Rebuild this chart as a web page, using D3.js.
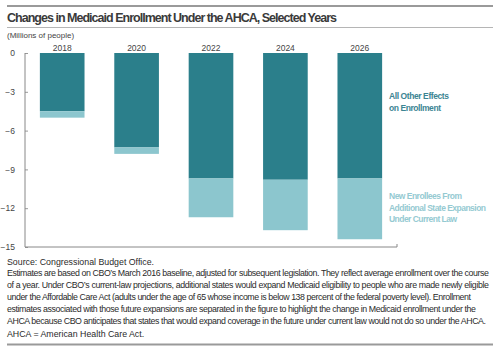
<!DOCTYPE html>
<html>
<head>
<meta charset="utf-8">
<script src="https://cdn.jsdelivr.net/npm/d3@7"></script>
<style>
  body { margin: 0; background: #fff; }
  svg { display: block; font-family: "Liberation Sans Narrow", "Liberation Sans", Arial, sans-serif; }
</style>
</head>
<body>
<script>
(function () {
    var width = 500;
    var height = 361;

    // data (millions of people)
    var years = ["2018", "2020", "2022", "2024", "2026"];
    var otherEffects = [-4.5, -7.3, -9.7, -9.8, -9.7];
    var newEnrollees = [-0.5, -0.5, -3.0, -3.9, -4.7];
    var yTicks = [0, -3, -6, -9, -12, -15];

    var darkTeal = "#2b7f8b";
    var lightTeal = "#8cc6ce";

    var notes = [
        "Estimates are based on CBO\u2019s March 2016 baseline, adjusted for subsequent legislation. They reflect average enrollment over the course",
        "of a year. Under CBO\u2019s current-law projections, additional states would expand Medicaid eligibility to people who are made newly eligible",
        "under the Affordable Care Act (adults under the age of 65 whose income is below 138 percent of the federal poverty level). Enrollment",
        "estimates associated with those future expansions are separated in the figure to highlight the change in Medicaid enrollment under the",
        "AHCA because CBO anticipates that states that would expand coverage in the future under current law would not do so under the AHCA."
    ];
    var noteWidths = [482, 482, 464, 469, 479];

    var darkLines = ["All Other Effects", "on Enrollment"];
    var darkWidths = [60, 52];
    var lightLines = ["New Enrollees From", "Additional State Expansion", "Under Current Law"];
    var lightWidths = [73, 97, 68];

    var svg = d3.select("body").append("svg")
        .attr("width", width)
        .attr("height", height);

    // spread a line of text to a target width with letter-spacing
    function fitWidth(sel, target) {
        sel.each(function () {
            var n = this.getNumberOfChars();
            var w = this.getComputedTextLength();
            if (n > 1) d3.select(this).attr("letter-spacing", (target - w) / (n - 1));
        });
    }

    // header rules and title
    svg.append("line").attr("x1", 7).attr("x2", 493).attr("y1", 6).attr("y2", 6)
        .attr("stroke", "#9a9a9a").attr("stroke-width", 2);
    svg.append("text")
        .attr("x", 7).attr("y", 22)
        .attr("font-size", 12.5).attr("font-weight", "bold")
        .attr("fill", "#3a3a3a")
        .text("Changes in Medicaid Enrollment Under the AHCA, Selected Years")
        .call(fitWidth, 330);
    svg.append("line").attr("x1", 7).attr("x2", 493).attr("y1", 27.5).attr("y2", 27.5)
        .attr("stroke", "#b5b5b5").attr("stroke-width", 1);
    svg.append("text")
        .attr("x", 7).attr("y", 38)
        .attr("font-size", 8).attr("fill", "#444")
        .text("(Millions of people)");

    // scales
    var x = d3.scaleBand()
        .domain(years)
        .range([25, 397])
        .paddingInner(0.4)
        .paddingOuter(0.2);

    var y = d3.scaleLinear()
        .domain([-15, 0])
        .range([247, 53]);

    // bars
    var rows = years.map(function (yr, i) {
        return { year: yr, other: otherEffects[i], extra: newEnrollees[i] };
    });

    svg.append("g").selectAll("rect.other")
        .data(rows).enter().append("rect")
        .attr("class", "other")
        .attr("x", function (d) { return x(d.year); })
        .attr("width", x.bandwidth())
        .attr("y", y(0))
        .attr("height", function (d) { return y(d.other) - y(0); })
        .attr("fill", darkTeal);

    svg.append("g").selectAll("rect.extra")
        .data(rows).enter().append("rect")
        .attr("class", "extra")
        .attr("x", function (d) { return x(d.year); })
        .attr("width", x.bandwidth())
        .attr("y", function (d) { return y(d.other); })
        .attr("height", function (d) { return y(d.other + d.extra) - y(d.other); })
        .attr("fill", lightTeal);

    // year labels above bars
    svg.append("g").selectAll("text")
        .data(years).enter().append("text")
        .attr("x", function (d) { return x(d) + x.bandwidth() / 2; })
        .attr("y", 50.5)
        .attr("text-anchor", "middle")
        .attr("font-size", 8.5)
        .attr("fill", "#444")
        .text(function (d) { return d; });

    // y axis
    var yAxisGen = d3.axisRight(y)
        .tickValues(yTicks)
        .tickSize(3)
        .tickFormat(function (d) { return d === 0 ? "0" : "\u2212" + Math.abs(d); });
    var yAxis = svg.append("g")
        .attr("transform", "translate(25,0)")
        .call(yAxisGen);
    yAxis.select(".domain").remove();
    yAxis.selectAll(".tick line").attr("stroke", "#999");
    yAxis.selectAll(".tick text")
        .attr("x", -10)
        .attr("text-anchor", "end")
        .attr("font-size", 8.5)
        .attr("font-family", "\"Liberation Sans Narrow\", \"Liberation Sans\", sans-serif")
        .attr("fill", "#444");

    svg.append("line")
        .attr("x1", 25).attr("x2", 25).attr("y1", y(0)).attr("y2", y(-15))
        .attr("stroke", "#888").attr("stroke-width", 1);
    svg.append("line")
        .attr("x1", 25).attr("x2", 397).attr("y1", y(-15)).attr("y2", y(-15))
        .attr("stroke", "#888").attr("stroke-width", 1);
    svg.append("line")
        .attr("x1", 397).attr("x2", 397).attr("y1", y(-15)).attr("y2", y(-15) - 3)
        .attr("stroke", "#888").attr("stroke-width", 1);

    // series labels
    svg.append("g").selectAll("text")
        .data(darkLines).enter().append("text")
        .attr("x", 389)
        .attr("y", function (d, i) { return 99 + i * 12; })
        .attr("font-size", 8.5).attr("font-weight", "bold")
        .attr("fill", "#3c8593")
        .text(function (d) { return d; })
        .each(function (d, i) { d3.select(this).call(fitWidth, darkWidths[i]); });

    svg.append("g").selectAll("text")
        .data(lightLines).enter().append("text")
        .attr("x", 389)
        .attr("y", function (d, i) { return 199 + i * 11.5; })
        .attr("font-size", 8.5).attr("font-weight", "bold")
        .attr("fill", "#95cad2")
        .text(function (d) { return d; })
        .each(function (d, i) { d3.select(this).call(fitWidth, lightWidths[i]); });

    // footnotes
    svg.append("text")
        .attr("x", 7).attr("y", 265)
        .attr("font-size", 8.8).attr("fill", "#2a2a2a")
        .text("Source: Congressional Budget Office.");

    svg.append("g").selectAll("text")
        .data(notes).enter().append("text")
        .attr("x", 7)
        .attr("y", function (d, i) { return 275.5 + i * 12; })
        .attr("font-size", 8.8)
        .attr("fill", "#2a2a2a")
        .text(function (d) { return d; })
        .each(function (d, i) { d3.select(this).call(fitWidth, noteWidths[i]); });

    svg.append("text")
        .attr("x", 7).attr("y", 337)
        .attr("font-size", 8.8).attr("fill", "#2a2a2a")
        .text("AHCA = American Health Care Act.");

    svg.append("line").attr("x1", 7).attr("x2", 493).attr("y1", 344.5).attr("y2", 344.5)
        .attr("stroke", "#9a9a9a").attr("stroke-width", 2);
})();
</script>
</body>
</html>
